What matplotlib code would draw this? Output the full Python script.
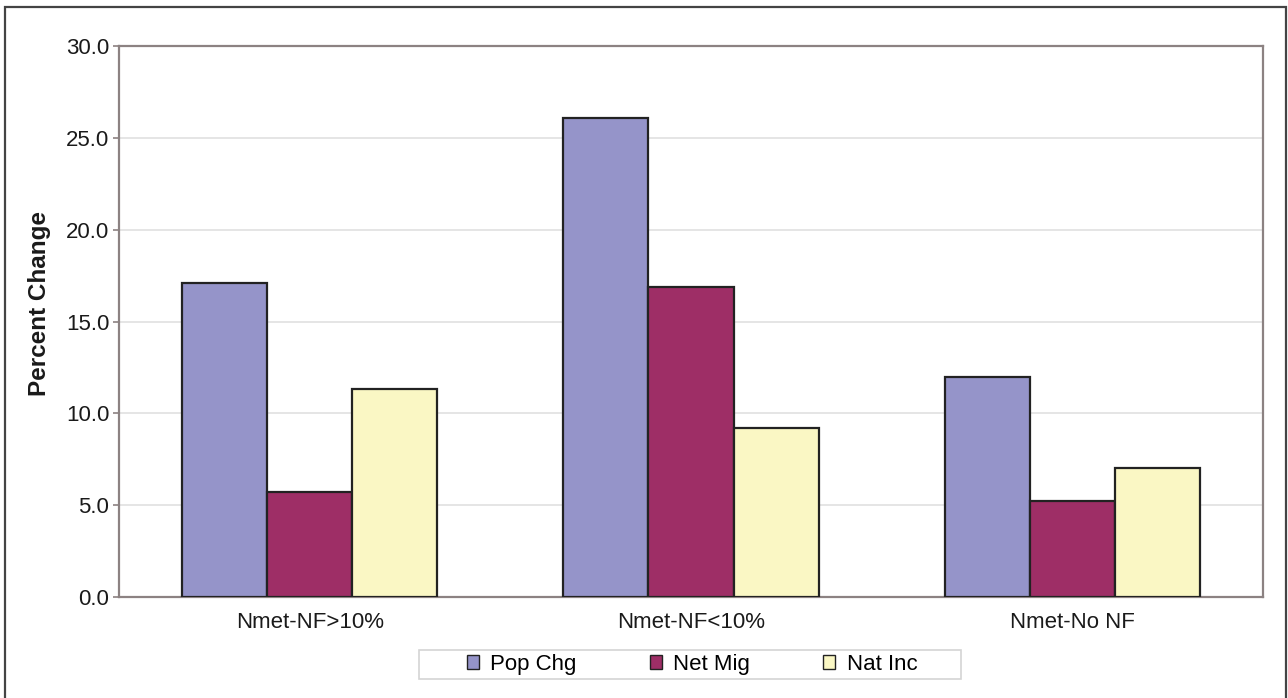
import numpy as np
import matplotlib
matplotlib.use("Agg")
from matplotlib import pyplot as plt
from matplotlib.patches import Rectangle

# data
categories = ["Nmet-NF>10%", "Nmet-NF<10%", "Nmet-No NF"]
series_names = ["Pop Chg", "Net Mig", "Nat Inc"]
pop_chg = [17.1, 26.1, 12.0]
net_mig = [5.7, 16.9, 5.2]
nat_inc = [11.3, 9.2, 7.0]
yticks = [0.0, 5.0, 10.0, 15.0, 20.0, 25.0, 30.0]

colors = ["#9594c9", "#9e2e66", "#faf7c4"]
spine_col = "#8c8282"

plt.rcParams['font.family'] = ['Liberation Sans', 'DejaVu Sans']

fig = plt.figure(figsize=(12.88, 6.98), dpi=100)
fig.patch.set_facecolor("white")
ax = fig.add_axes([119 / 1288, 1 - 597 / 698, (1263 - 119) / 1288, (597 - 46) / 698])

x = np.arange(len(categories))
w = 0.223
for i, (vals, name) in enumerate(zip([pop_chg, net_mig, nat_inc], series_names)):
    ax.bar(x + (i - 1) * w, vals, width=w, color=colors[i], edgecolor="#222222",
           linewidth=1.6, label=name, zorder=3)

ax.set_xlim(-0.5, 2.5)
ax.set_ylim(0, 30)
ax.set_yticks(yticks)
ax.set_yticklabels(["%.1f" % t for t in yticks], fontsize=16, color="#1a1a1a")
ax.set_xticks(x)
ax.set_xticklabels(categories, fontsize=16, color="#1a1a1a")
ax.tick_params(axis="x", length=0, pad=11)
ax.tick_params(axis="y", length=4, width=1.2, color=spine_col, pad=3)
ax.grid(axis="y", color="#dedede", linewidth=1.1, zorder=0)
for s in ax.spines.values():
    s.set_color(spine_col)
    s.set_linewidth(1.6)

fig.text(40 / 1288, 1 - 304 / 698, "Percent Change", rotation=90, fontsize=17.5,
         fontweight="bold", ha="center", va="center", color="#1a1a1a")

# legend frame drawn separately to get the wide flat box
fig.patches.append(Rectangle((419 / 1288, 1 - 679 / 698), 542 / 1288, 29 / 698,
                             transform=fig.transFigure, facecolor="white",
                             edgecolor="#d4d4d4", linewidth=1.2, zorder=1))
handles, labels = ax.get_legend_handles_labels()
leg = fig.legend(handles, labels, loc="center", bbox_to_anchor=(692 / 1288, 1 - 664.5 / 698),
                 ncol=3, frameon=False, fontsize=16, handlelength=0.55, handleheight=0.55,
                 handletextpad=0.5, columnspacing=3.3)
for h in leg.legend_handles:
    h.set_linewidth(1.0)

# outer border of the picture
fig.patches.append(Rectangle((5 / 1288, -0.02), 1281 / 1288, 1 - 7 / 698 + 0.02,
                             transform=fig.transFigure, fill=False,
                             edgecolor="#444444", linewidth=1.6, zorder=0))

fig.savefig("out.png", dpi=100)
